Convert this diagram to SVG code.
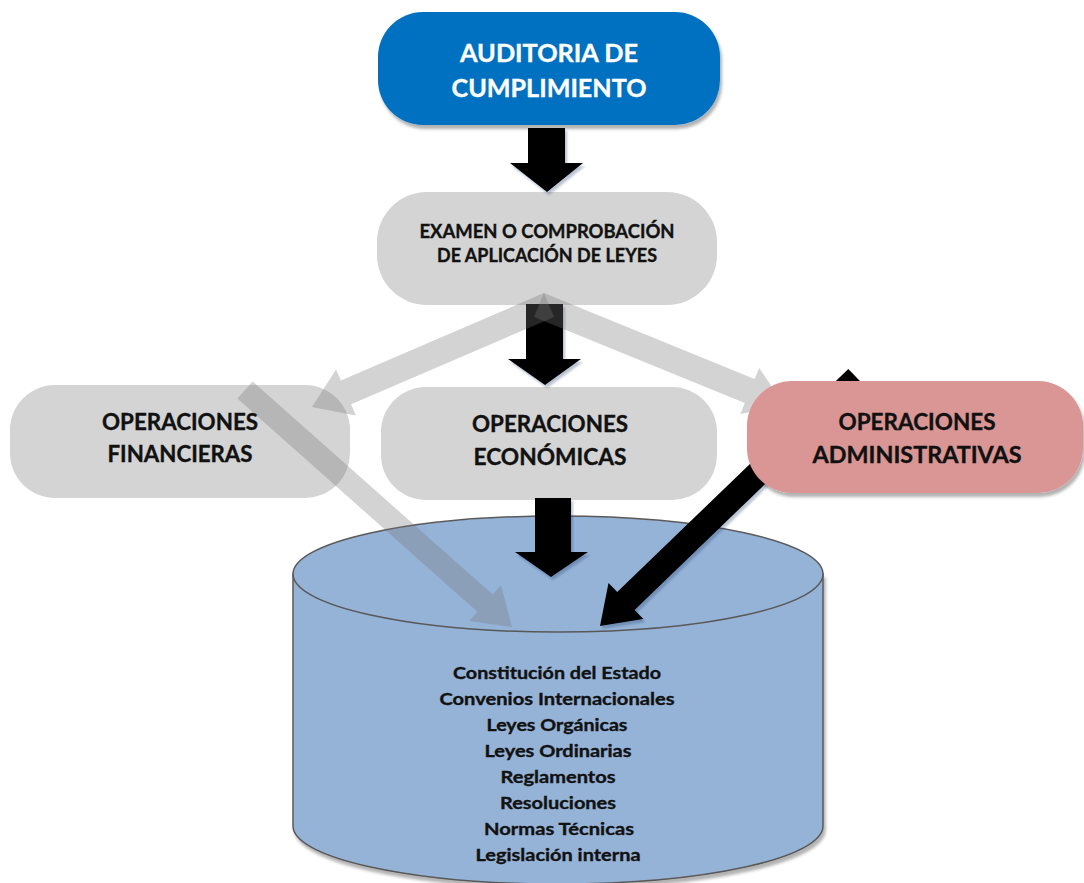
<svg xmlns="http://www.w3.org/2000/svg" width="1084" height="883" viewBox="0 0 1084 883">
<defs>
<style>
.t{font-family:Lato,"Liberation Sans",sans-serif;font-weight:700;text-anchor:middle;fill:#111;stroke:#111;stroke-width:0.35}
.w{fill:#fff;stroke:#fff}
.blk{fill:#000}
.gry{fill:#777;fill-opacity:0.32}
.gnode{fill:#D4D4D4}
</style>
<filter id="sh" x="-10%" y="-10%" width="125%" height="130%">
<feDropShadow dx="2" dy="4" stdDeviation="1.5" flood-color="#000" flood-opacity="0.3"/>
</filter>
<filter id="ash" x="-20%" y="-20%" width="140%" height="140%">
<feDropShadow dx="2" dy="3" stdDeviation="1" flood-color="#1F3864" flood-opacity="0.3"/>
</filter>
</defs>
<rect width="1084" height="883" fill="#fff"/>

<g id="n-auditoria">
<rect x="378" y="12" width="342" height="113" rx="45" fill="#0070C0" filter="url(#sh)"/>
<text class="t w" x="549" y="62" font-size="25" textLength="178" lengthAdjust="spacingAndGlyphs">AUDITORIA DE</text>
<text class="t w" x="549" y="97" font-size="25" textLength="195" lengthAdjust="spacingAndGlyphs">CUMPLIMIENTO</text>
</g>

<g id="n-examen">
<rect class="gnode" x="377" y="192" width="340" height="113" rx="50"/>
<text class="t" x="547" y="238" font-size="18.5" textLength="255" lengthAdjust="spacingAndGlyphs">EXAMEN O COMPROBACIÓN</text>
<text class="t" x="547" y="262" font-size="18.5" textLength="220" lengthAdjust="spacingAndGlyphs">DE APLICACIÓN DE LEYES</text>
</g>

<g id="n-financieras">
<rect class="gnode" x="10" y="385" width="340" height="113" rx="45"/>
<text class="t" x="180" y="430" font-size="22" textLength="156" lengthAdjust="spacingAndGlyphs">OPERACIONES</text>
<text class="t" x="180" y="462" font-size="22" textLength="145" lengthAdjust="spacingAndGlyphs">FINANCIERAS</text>
</g>

<g id="n-economicas">
<rect class="gnode" x="381" y="387" width="336" height="113" rx="45"/>
<text class="t" x="550" y="432" font-size="22" textLength="156" lengthAdjust="spacingAndGlyphs">OPERACIONES</text>
<text class="t" x="550" y="465" font-size="22" textLength="153" lengthAdjust="spacingAndGlyphs">ECONÓMICAS</text>
</g>

<g id="n-leyes">
<path d="M293,574 L293,826 A265,58 0 0 0 823,826 L823,574 Z" fill="#95B3D7" stroke="#595959" stroke-width="1.5" filter="url(#sh)"/>
<ellipse cx="558" cy="574" rx="265" ry="58" fill="#95B3D7" stroke="#595959" stroke-width="1.5"/>
<text class="t" x="557" y="679" font-size="17" textLength="208" lengthAdjust="spacingAndGlyphs">Constitución del Estado</text>
<text class="t" x="557" y="705" font-size="17" textLength="235" lengthAdjust="spacingAndGlyphs">Convenios Internacionales</text>
<text class="t" x="557" y="731" font-size="17" textLength="141" lengthAdjust="spacingAndGlyphs">Leyes Orgánicas</text>
<text class="t" x="558" y="757" font-size="17" textLength="147" lengthAdjust="spacingAndGlyphs">Leyes Ordinarias</text>
<text class="t" x="558" y="783" font-size="17" textLength="115" lengthAdjust="spacingAndGlyphs">Reglamentos</text>
<text class="t" x="558" y="809" font-size="17" textLength="116" lengthAdjust="spacingAndGlyphs">Resoluciones</text>
<text class="t" x="559" y="835" font-size="17" textLength="150" lengthAdjust="spacingAndGlyphs">Normas Técnicas</text>
<text class="t" x="558" y="861" font-size="17" textLength="165" lengthAdjust="spacingAndGlyphs">Legislación interna</text>
</g>

<g id="connectors">
<polygon class="blk" filter="url(#ash)" points="528,128 565,128 565,163 583,163 547,192 510,163 528,163"/>
<polygon class="blk" filter="url(#ash)" points="526,304 563,304 563,359 581,359 545,385 508,359 526,359"/>
<polygon class="blk" filter="url(#ash)" points="535,498 571,498 571,552 588,552 551,577 515,552 535,552"/>
<polygon class="blk" filter="url(#ash)" points="848.3,369 617.2,592 608.5,583 600,626 643.3,619 634.6,610 865.7,387"/>
<polygon class="gry" points="554.1,316.9 351.1,404.3 355.9,415.4 312,407 336.1,369.4 340.9,380.5 543.9,293.1"/>
<polygon class="gry" points="543.9,293 754.6,379 759.2,367.9 784,405 740.3,414.1 744.8,403.1 534.1,317"/>
<polygon class="gry" points="252.6,381.4 492.7,594.5 501,585.2 512,627 469.2,621.1 477.4,611.7 237.4,398.6"/>
</g>

<g id="n-administrativas">
<rect x="747" y="381" width="336" height="112" rx="45" fill="#D99694" filter="url(#sh)"/>
<text class="t" x="917" y="430" font-size="22" textLength="157" lengthAdjust="spacingAndGlyphs">OPERACIONES</text>
<text class="t" x="917" y="463" font-size="22" textLength="209" lengthAdjust="spacingAndGlyphs">ADMINISTRATIVAS</text>
</g>
</svg>
